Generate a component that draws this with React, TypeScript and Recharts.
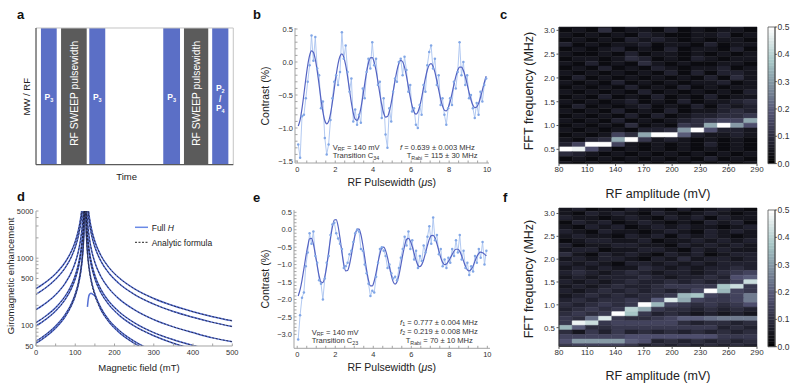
import React from 'react';
import { ComposedChart, Line, XAxis, YAxis, ReferenceArea, ReferenceLine } from 'recharts';

const FONT = '"Liberation Sans", Arial, Helvetica, sans-serif';
const FRAME = '#a3a3a3';
const TICK_TXT = '#333';
const TXT = '#222';

// ---------------- panel a : pulse sequence ----------------
const SEQ_START = [2.5, 12.7, 27.0, 64.5, 75.0, 89.3];
const SEQ_END = [10.5, 25.7, 35.1, 73.0, 87.3, 97.5];
const SEQ_KIND = ['mw', 'rf', 'mw', 'mw', 'rf', 'mw'];
const SEQ_LABEL = ['P3', 'RF SWEEP pulsewidth', 'P3', 'P3', 'RF SWEEP pulsewidth', 'P2/P4'];

// ---------------- panels b, e : Rabi oscillations ----------------
const RABI_T = [
  0.05, 0.15, 0.25, 0.35, 0.45, 0.55, 0.65, 0.75, 0.85, 0.95,
  1.05, 1.15, 1.25, 1.35, 1.45, 1.55, 1.65, 1.75, 1.85, 1.95,
  2.05, 2.15, 2.25, 2.35, 2.45, 2.55, 2.65, 2.75, 2.85, 2.95,
  3.05, 3.15, 3.25, 3.35, 3.45, 3.55, 3.65, 3.75, 3.85, 3.95,
  4.05, 4.15, 4.25, 4.35, 4.45, 4.55, 4.65, 4.75, 4.85, 4.95,
  5.05, 5.15, 5.25, 5.35, 5.45, 5.55, 5.65, 5.75, 5.85, 5.95,
  6.05, 6.15, 6.25, 6.35, 6.45, 6.55, 6.65, 6.75, 6.85, 6.95,
  7.05, 7.15, 7.25, 7.35, 7.45, 7.55, 7.65, 7.75, 7.85, 7.95,
  8.05, 8.15, 8.25, 8.35, 8.45, 8.55, 8.65, 8.75, 8.85, 8.95,
  9.05, 9.15, 9.25, 9.35, 9.45, 9.55, 9.65, 9.75, 9.85, 9.95,
];
const B_DATA = [
  -1.25, -1.45, -0.82, -0.80, -0.55, -0.30, -0.05, 0.40, 0.02, 0.38,
  -0.10, -0.20, -0.70, -0.60, -1.15, -1.40, -1.25, -0.88, -0.55, -0.30,
  -0.20, -0.35, -0.15, 0.45, 0.05, 0.25, -0.15, -0.45, -0.25, -0.90,
  -0.72, -0.95, -0.80, -0.92, -0.40, -0.55, -0.15, 0.05, -0.10, 0.30,
  -0.05, 0.05, -0.35, -0.30, -0.85, -0.55, -1.10, -1.30, -0.70, -0.90,
  -0.45, -0.25, -0.30, 0.00, 0.05, -0.20, 0.08, -0.12, -0.45, -0.35,
  -0.75, -0.70, -0.95, -1.00, -0.65, -0.80, -0.35, -0.45, -0.05, 0.15,
  0.25, -0.10, 0.05, -0.35, -0.20, -0.65, -0.55, -0.80, -0.95, -0.70,
  -0.55, -0.65, -0.30, -0.40, -0.15, 0.30, -0.20, 0.00, -0.35, -0.20,
  -0.55, -0.50, -0.70, -0.85, -0.62, -0.80, -0.45, -0.60, -0.35, -0.25,
];
const B_FIT = [
  -0.970, -0.875, -0.703, -0.485, -0.255, -0.050, 0.099, 0.168, 0.147, 0.040,
  -0.134, -0.347, -0.566, -0.754, -0.886, -0.936, -0.901, -0.785, -0.610, -0.403,
  -0.197, -0.024, 0.087, 0.122, 0.074, -0.048, -0.223, -0.423, -0.617, -0.773,
  -0.866, -0.885, -0.826, -0.700, -0.527, -0.335, -0.156, -0.015, 0.062, 0.067,
  -0.002, -0.132, -0.302, -0.484, -0.649, -0.773, -0.834, -0.826, -0.751, -0.618,
  -0.453, -0.281, -0.129, -0.023, 0.024, 0.004, -0.079, -0.210, -0.369, -0.529,
  -0.666, -0.758, -0.791, -0.761, -0.673, -0.543, -0.393, -0.244, -0.121, -0.045,
  -0.024, -0.063, -0.153, -0.280, -0.423, -0.559, -0.667, -0.731, -0.740, -0.695,
  -0.602, -0.481, -0.346, -0.223, -0.128, -0.077, -0.078, -0.129, -0.220, -0.338,
  -0.462, -0.572, -0.653, -0.692, -0.683, -0.628, -0.538, -0.428, -0.314, -0.215,
];
const E_DATA = [
  -3.15, -2.45, -1.95, -1.80, -1.05, -0.65, -0.10, -0.40, -0.05, -0.75,
  -0.95, -1.45, -1.55, -2.00, -1.40, -0.95, -0.75, -0.15, 0.15, 0.20,
  -0.10, -0.25, -0.40, -0.55, -1.10, -1.05, -0.95, -0.70, -0.60, -0.35,
  -0.10, 0.00, -0.05, -0.55, -0.60, -1.00, -1.25, -1.55, -1.90, -1.75,
  -1.80, -1.35, -0.95, -0.55, -0.50, -0.60, -0.75, -1.10, -1.00, -1.25,
  -1.40, -1.35, -1.45, -1.10, -0.80, -0.55, -0.20, -0.45, -0.05, -0.55,
  -0.30, -0.85, -0.60, -1.10, -0.75, -0.90, -0.45, -0.65, -0.20, 0.10,
  -0.40, 0.35, -0.30, -0.15, -0.70, -0.55, -1.05, -0.85, -1.10, -0.80,
  -0.95, -0.55, -0.75, -0.30, -0.65, -0.15, -0.85, -0.60, -1.10, -0.95,
  -1.30, -1.05, -1.20, -0.75, -0.95, -0.55, -0.80, -0.35, -1.00, -0.60,
];
const E_FIT = [
  -1.90, -1.72, -1.45, -1.12, -0.78, -0.48, -0.26, -0.25, -0.41, -0.70,
  -1.03, -1.32, -1.50, -1.515, -1.35, -1.05, -0.65, -0.25, 0.08, 0.28,
  0.29, 0.10, -0.24, -0.65, -0.99, -1.18, -1.17, -1.00, -0.72, -0.41,
  -0.14, 0.02, 0.02, -0.14, -0.43, -0.795, -1.16, -1.45, -1.61, -1.61,
  -1.47, -1.23, -0.94, -0.69, -0.53, -0.50, -0.60, -0.80, -1.065, -1.31,
  -1.495, -1.56, -1.49, -1.30, -1.02, -0.72, -0.46, -0.28, -0.25, -0.32,
  -0.48, -0.68, -0.88, -1.02, -1.06, -1.00, -0.86, -0.66, -0.45, -0.27,
  -0.17, -0.16, -0.24, -0.405, -0.605, -0.80, -0.94, -1.00, -0.98, -0.91,
  -0.81, -0.71, -0.61, -0.56, -0.56, -0.62, -0.75, -0.90, -1.05, -1.15,
  -1.18, -1.14, -1.04, -0.90, -0.77, -0.675, -0.64, -0.66, -0.70, -0.75,
];
const PW_TICKS = [0, 0.5, 1, 1.5, 2, 2.5, 3, 3.5, 4, 4.5, 5, 5.5, 6, 6.5, 7, 7.5, 8, 8.5, 9, 9.5, 10];
const B_YTICKS = [-1.5, -1.4, -1.3, -1.2, -1.1, -1.0, -0.9, -0.8, -0.7, -0.6, -0.5, -0.4, -0.3, -0.2, -0.1, 0, 0.1, 0.2, 0.3, 0.4, 0.5];
const E_YTICKS = [-3.0, -2.9, -2.8, -2.7, -2.6, -2.5, -2.4, -2.3, -2.2, -2.1, -2.0, -1.9, -1.8, -1.7, -1.6, -1.5, -1.4, -1.3, -1.2, -1.1, -1.0, -0.9, -0.8, -0.7, -0.6, -0.5, -0.4, -0.3, -0.2, -0.1, 0, 0.1, 0.2, 0.3, 0.4, 0.5];

// ---------------- panels c, f : FFT maps ----------------
const AMP_EDGES = [80, 94, 108, 122, 136, 150, 164, 178, 192, 206, 220, 234, 248, 262, 276, 290];
const AMP_TICKS = [80, 110, 140, 170, 200, 230, 260, 290];
const FREQ_TICKS = [0.5, 1.0, 1.5, 2.0, 2.5, 3.0];
const CBAR_TICKS = [0, 0.1, 0.2, 0.3, 0.4, 0.5];
const LEVELS = '0123456789ABCDEFGHIJK'; // each step = 0.025
const C_FREQ = [3.1, 3.0, 2.9, 2.8, 2.7, 2.6, 2.5, 2.4, 2.3, 2.2, 2.1, 2.0, 1.9, 1.8, 1.7, 1.6, 1.5, 1.4, 1.3, 1.2, 1.1, 1.0, 0.9, 0.8, 0.7, 0.6, 0.5, 0.4, 0.3, 0.2];
const C_ROWS = [
  '211213112122131',
  '121412213121221',
  '212121321122312',
  '121213232121221',
  '312122312213122',
  '121231213122131',
  '211213122121212',
  '122124312132122',
  '213121421211221',
  '121312132122312',
  '212121213131332',
  '131212121213142',
  '212131212122312',
  '121213121312122',
  '212121312121213',
  '121312131213122',
  '212123121312234',
  '131212312131323',
  '212131213122343',
  '121213131233445',
  '21213121234566D',
  '12121412154DKC7',
  '212121334CK7332',
  '121264DKK832232',
  '2134DK523212121',
  '36KK62121213121',
  'KJ7312121212121',
  '432121212121212',
  '121212121213121',
  '212121212121212',
];
const F_FREQ = [3.1, 3.0, 2.9, 2.8, 2.7, 2.6, 2.5, 2.4, 2.3, 2.2, 2.1, 2.0, 1.9, 1.8, 1.7, 1.6, 1.5, 1.4, 1.3, 1.2, 1.1, 1.0, 0.9, 0.8, 0.7, 0.6, 0.5, 0.4, 0.3, 0.2, 0.1];
const F_ROWS = [
  '231213221312321',
  '213232132123212',
  '322123213231322',
  '132312321213231',
  '213231232322123',
  '321322123213232',
  '232213231323212',
  '123322312232323',
  '312233221323232',
  '233122332132322',
  '421323213231233',
  '232332132423323',
  '323213323232333',
  '232322432323343',
  '343234323323456',
  '232333432334378',
  '32323433434346H',
  '232343345555FH5',
  '32343434346KE65',
  '234343445EF656A',
  '34344548ID6556A',
  '434545KE6545457',
  '34545GD54434343',
  '4545KF534323232',
  '549I54456889AAA',
  '5JH566666434434',
  'E84455555555343',
  '425353434343434',
  '666667777777555',
  '7CCCC8734343434',
  '566665343434343',
];

// ---------------- panel d : giromagnetic enhancement ----------------
const D_LEFT_B = [0, 25, 50, 75, 90, 100, 108, 114, 118, 121, 123, 124];
const D_RIGHT_B = [126, 127, 129, 132, 136, 142, 150, 165, 185, 210, 250, 300, 350, 400, 450, 500];
const ENH_LEFT = [
  [354, 443, 590, 885, 1264, 1770, 2603, 4023, 6321, 11063, 22125, 44250],
  [292, 365, 487, 730, 1043, 1460, 2147, 3318, 5214, 9125, 18250, 36500],
  [173, 216, 288, 432, 617, 864, 1271, 1964, 3086, 5400, 10800, 21600],
  [111, 139, 185, 278, 397, 556, 818, 1264, 1986, 3475, 6950, 13900],
  [99, 124, 165, 248, 354, 496, 729, 1127, 1771, 3100, 6200, 12400],
  [59, 74, 99, 148, 211, 296, 435, 673, 1057, 1850, 3700, 7400],
  [55, 69, 92, 138, 197, 276, 406, 627, 986, 1725, 3450, 6900],
];
const ENH_RIGHT = [
  [44250, 22125, 11063, 6321, 4023, 2603, 1770, 1106, 738, 521, 354, 253, 197, 161, 136, 118],
  [36500, 18250, 9125, 5214, 3318, 2147, 1460, 913, 608, 429, 292, 209, 162, 133, 112, 97],
  [21600, 10800, 5400, 3086, 1964, 1271, 864, 540, 360, 254, 173, 123, 96, 79, 66, 58],
  [13900, 6950, 3475, 1986, 1264, 818, 556, 348, 232, 164, 111, 79, 62, 51, 43, 37],
  [12400, 6200, 3100, 1771, 1127, 729, 496, 310, 207, 146, 99, 71, 55, 45, 38, 33],
  [7400, 3700, 1850, 1057, 673, 435, 296, 185, 123, 87, 59, 42, 33, 27, 23, 20],
  [6900, 3450, 1725, 986, 627, 406, 276, 173, 115, 81, 55, 39, 31, 25, 21, 18],
];
const HOOK_B = [131, 133, 136, 140, 145, 150, 165, 185, 210, 250, 300];
const HOOK_G = [190, 245, 290, 302, 292, 276, 173, 115, 81, 55, 39];
const D_XTICKS = [0, 50, 100, 150, 200, 250, 300, 350, 400, 450, 500];
const D_YTICKS = [50, 60, 70, 80, 90, 100, 200, 300, 400, 500, 600, 700, 800, 900, 1000, 2000, 3000, 4000, 5000];
const D_YLABELS = [50, 100, 500, 1000, 5000];

// ---------------- helpers ----------------
function bone(n: number) {
  const t = Math.max(0, Math.min(1, n));
  const r = t < 0.746 ? 0.8752 * t : 0.653 + (t - 0.746) * 1.366;
  const g = t < 0.365 ? 0.875 * t : t < 0.746 ? 0.3194 + (t - 0.365) * 1.2042 : 0.7778 + (t - 0.746) * 0.874;
  const b = t < 0.365 ? 1.2175 * t : 0.4444 + (t - 0.365) * 0.875;
  const c = (v: number) => Math.round(Math.max(0, Math.min(1, v)) * 255);
  return `rgb(${c(r)},${c(g)},${c(b)})`;
}

function heatCells(rows: string[], freqs: number[], lo: number, hi: number) {
  const out: any[] = [];
  rows.forEach((row, r) => {
    const f = freqs[r];
    const y1 = Math.max(lo, f - 0.05);
    const y2 = Math.min(hi, f + 0.05);
    for (let k = 0; k < AMP_EDGES.length - 1; k++) {
      const v = LEVELS.indexOf(row[k]) * 0.025;
      out.push({ key: `${r}-${k}`, x1: AMP_EDGES[k], x2: AMP_EDGES[k + 1], y1, y2, color: bone(v / 0.5) });
    }
  });
  return out;
}

const CBAR_CELLS = Array.from({ length: 50 }, (_, i) => ({ y1: i * 0.01, y2: (i + 1) * 0.01, color: bone((i + 0.5) / 50) }));

const fmtSigned = (v: number) => {
  if (Math.abs(v * 2 - Math.round(v * 2)) > 1e-6) return '';
  const s = Math.abs(v).toFixed(1);
  return v < -1e-9 ? '\u2212' + s : s;
};
const fmtEven = (v: number) => (Math.abs(v / 2 - Math.round(v / 2)) < 1e-6 ? String(v) : '');
const tickStyle = (fs: number) => ({ fontSize: fs, fill: TICK_TXT, fontFamily: FONT });

function SeqLabel(props: any) {
  const { viewBox, seq } = props;
  const { x, y, width, height } = viewBox;
  const cx = x + width / 2;
  const cy = y + height / 2;
  if (seq === 'RF SWEEP pulsewidth') {
    const yy = cy - 3;
    return (
      <text x={cx} y={yy} transform={`rotate(-90 ${cx} ${yy})`} textAnchor="middle" dy="0.36em" fill="#fff" fontSize={10.3} fontFamily={FONT}>
        {seq}
      </text>
    );
  }
  if (seq === 'P2/P4') {
    return (
      <g fill="#fff" fontFamily={FONT} fontWeight="bold" fontSize={8.5} textAnchor="middle">
        <text x={cx} y={cy - 5}>P<tspan fontSize={5.5} dy={1.5}>2</tspan></text>
        <text x={cx} y={cy + 5.3}>/</text>
        <text x={cx} y={cy + 14.8}>P<tspan fontSize={5.5} dy={1.5}>4</tspan></text>
      </g>
    );
  }
  return (
    <text x={cx} y={cy + 4} fill="#fff" fontFamily={FONT} fontWeight="bold" fontSize={8.5} textAnchor="middle">
      P<tspan fontSize={5.5} dy={1.5}>3</tspan>
    </text>
  );
}

function Pos({ left, top, children }: any) {
  return <div style={{ position: 'absolute', left, top }}>{children}</div>;
}

// ---------------- panels ----------------
function PanelA() {
  return (
    <Pos left={34} top={26.3}>
      <ComposedChart width={201.3} height={140.7} margin={{ top: 2, right: 2, bottom: 2, left: 2 }}>
        <XAxis type="number" dataKey="x" domain={[0, 100]} allowDataOverflow height={0} tick={false} tickLine={false} axisLine={false} />
        <YAxis type="number" domain={[0, 1]} allowDataOverflow width={0} tick={false} tickLine={false} axisLine={false} />
        {SEQ_START.map((s, i) => (
          <ReferenceArea
            key={i}
            x1={s}
            x2={SEQ_END[i]}
            y1={0}
            y2={1}
            fill={SEQ_KIND[i] === 'mw' ? '#5b6fc6' : '#5b5b5b'}
            fillOpacity={1}
            stroke="none"
            label={<SeqLabel seq={SEQ_LABEL[i]} />}
          />
        ))}
        <ReferenceLine x={100} stroke="#c4c4c4" strokeWidth={1} />
        <ReferenceLine y={1} stroke="#c4c4c4" strokeWidth={1} />
        <ReferenceLine x={0} stroke="#5a5a5a" strokeWidth={1.3} />
        <ReferenceLine y={0} stroke="#5a5a5a" strokeWidth={1.3} />
      </ComposedChart>
    </Pos>
  );
}

function RabiPanel({ left, top, width, height, xDomain, yDomain, yTicks, data, fit }: any) {
  const rows = RABI_T.map((t, i) => ({ t, data: data[i], fit: fit[i] }));
  return (
    <Pos left={left} top={top}>
      <ComposedChart width={width} height={height} data={rows} margin={{ top: 3, right: 3, bottom: 0, left: 0 }}>
        <XAxis dataKey="t" type="number" domain={xDomain} allowDataOverflow ticks={PW_TICKS} interval={0} height={16}
          axisLine={{ stroke: FRAME }} tickLine={{ stroke: FRAME }} tickSize={-2.5} tickMargin={6} tick={tickStyle(7.5)} tickFormatter={fmtEven} />
        <XAxis xAxisId="top" orientation="top" type="number" domain={xDomain} allowDataOverflow ticks={PW_TICKS} interval={0} height={0}
          axisLine={{ stroke: FRAME }} tickLine={{ stroke: FRAME }} tickSize={-2.5} tick={false} />
        <YAxis type="number" domain={yDomain} allowDataOverflow ticks={yTicks} interval={0} width={30}
          axisLine={{ stroke: FRAME }} tickLine={{ stroke: FRAME }} tickSize={-2.5} tickMargin={4.5} tick={tickStyle(7.5)} tickFormatter={fmtSigned} />
        <YAxis yAxisId="right" orientation="right" type="number" domain={yDomain} allowDataOverflow ticks={yTicks} interval={0} width={0}
          axisLine={{ stroke: FRAME }} tickLine={{ stroke: FRAME }} tickSize={-2.5} tick={false} />
        <Line dataKey="data" type="linear" stroke="#a9c3ef" strokeWidth={0.9} isAnimationActive={false}
          dot={{ r: 1.25, fill: '#82a7e6', stroke: 'none' }} activeDot={false} />
        <Line dataKey="fit" type="monotone" stroke="#5463c2" strokeWidth={1.2} isAnimationActive={false} dot={false} activeDot={false} />
      </ComposedChart>
    </Pos>
  );
}

function HeatPanel({ left, top, height, rows, freqs, lo, hi }: any) {
  const cells = heatCells(rows, freqs, lo, hi);
  return (
    <Pos left={left} top={top}>
      <ComposedChart width={234} height={height} margin={{ top: 2, right: 12, bottom: 0, left: 0 }}>
        <XAxis type="number" dataKey="x" domain={[80, 290]} allowDataOverflow ticks={AMP_TICKS} interval={0} height={14}
          axisLine={{ stroke: '#333' }} tickLine={{ stroke: '#555' }} tickSize={2.5} tickMargin={0.5} tick={tickStyle(8)} />
        <YAxis type="number" domain={[lo, hi]} allowDataOverflow ticks={FREQ_TICKS} interval={0} width={24}
          axisLine={{ stroke: '#333' }} tickLine={{ stroke: '#555' }} tickSize={2.5} tickMargin={1.5} tick={tickStyle(8)}
          tickFormatter={(v: number) => v.toFixed(1)} />
        {cells.map((c) => (
          <ReferenceArea key={c.key} x1={c.x1} x2={c.x2} y1={c.y1} y2={c.y2} fill={c.color} fillOpacity={1}
            stroke={c.color} strokeWidth={0.5} ifOverflow="visible" />
        ))}
      </ComposedChart>
    </Pos>
  );
}

function ColorBar({ left, top, height }: any) {
  return (
    <Pos left={left} top={top}>
      <ComposedChart width={26} height={height} margin={{ top: 6, right: 0, bottom: 6, left: 1 }}>
        <XAxis type="number" dataKey="x" domain={[0, 1]} allowDataOverflow height={0} tick={false} tickLine={false} axisLine={false} />
        <YAxis orientation="right" type="number" domain={[0, 0.5]} allowDataOverflow ticks={CBAR_TICKS} interval={0} width={18}
          axisLine={{ stroke: '#444', strokeWidth: 0.8 }} tickLine={{ stroke: '#444' }} tickSize={1.8} tickMargin={0.8} tick={tickStyle(8.5)}
          tickFormatter={(v: number) => v.toFixed(1)} />
        {CBAR_CELLS.map((c, i) => (
          <ReferenceArea key={i} x1={0} x2={1} y1={c.y1} y2={c.y2} fill={c.color} fillOpacity={1} stroke={c.color} strokeWidth={0.4} />
        ))}
        <ReferenceArea x1={0} x2={1} y1={0} y2={0.5} fill="none" fillOpacity={0} stroke="#555" strokeWidth={0.8} />
      </ComposedChart>
    </Pos>
  );
}

function PanelD() {
  const blue = '#5670d4';
  const dash = '#1c1c2e';
  const leftSets = ENH_LEFT.map((vals) => D_LEFT_B.map((b, j) => ({ b, g: vals[j] })));
  const rightSets = ENH_RIGHT.map((vals) => D_RIGHT_B.map((b, j) => ({ b, g: vals[j] })));
  const hook = HOOK_B.map((b, j) => ({ b, g: HOOK_G[j] }));
  const blueRight = rightSets.slice(0, 6).concat([hook]);
  return (
    <Pos left={6} top={207.7}>
      <ComposedChart width={236.3} height={152} margin={{ top: 3, right: 10, bottom: 0, left: 0 }}>
        <XAxis dataKey="b" type="number" domain={[0, 500]} allowDataOverflow ticks={D_XTICKS} interval={0} height={14}
          axisLine={{ stroke: FRAME }} tickLine={{ stroke: FRAME }} tickSize={-2.5} tickMargin={5.8} tick={tickStyle(7.5)}
          tickFormatter={(v: number) => (v % 100 === 0 ? String(v) : '')} />
        <XAxis xAxisId="top" orientation="top" type="number" domain={[0, 500]} allowDataOverflow ticks={D_XTICKS} interval={0} height={0}
          axisLine={{ stroke: FRAME }} tickLine={{ stroke: FRAME }} tickSize={-2.5} tick={false} />
        <YAxis dataKey="g" type="number" scale="log" domain={[50, 5000]} allowDataOverflow ticks={D_YTICKS} interval={0} width={30}
          axisLine={{ stroke: FRAME }} tickLine={{ stroke: FRAME }} tickSize={-2.5} tickMargin={5} tick={tickStyle(7.5)}
          tickFormatter={(v: number) => (D_YLABELS.includes(v) ? String(v) : '')} />
        <YAxis yAxisId="right" orientation="right" type="number" scale="log" domain={[50, 5000]} allowDataOverflow ticks={D_YTICKS} interval={0} width={0}
          axisLine={{ stroke: FRAME }} tickLine={{ stroke: FRAME }} tickSize={-2.5} tick={false} />
        {leftSets.map((d, i) => (
          <Line key={`bl${i}`} data={d} dataKey="g" type="monotone" stroke={blue} strokeWidth={1.5} dot={false} activeDot={false} isAnimationActive={false} />
        ))}
        {blueRight.map((d, i) => (
          <Line key={`br${i}`} data={d} dataKey="g" type="monotone" stroke={blue} strokeWidth={1.5} dot={false} activeDot={false} isAnimationActive={false} />
        ))}
        {leftSets.map((d, i) => (
          <Line key={`dl${i}`} data={d} dataKey="g" type="monotone" stroke={dash} strokeWidth={0.8} strokeDasharray="2 1.6" dot={false} activeDot={false} isAnimationActive={false} />
        ))}
        {rightSets.map((d, i) => (
          <Line key={`dr${i}`} data={d} dataKey="g" type="monotone" stroke={dash} strokeWidth={0.8} strokeDasharray="2 1.6" dot={false} activeDot={false} isAnimationActive={false} />
        ))}
      </ComposedChart>
    </Pos>
  );
}

function Overlay() {
  const sub = (s: string) => <tspan fontSize={5.3} dy={1.6}>{s}</tspan>;
  return (
    <svg width={793} height={392} style={{ position: 'absolute', left: 0, top: 0, pointerEvents: 'none' }} fontFamily={FONT} fill={TXT}>
      <g fontWeight="bold" fontSize={13} fill="#111">
        <text x={17} y={18.5}>a</text>
        <text x={253} y={18.5}>b</text>
        <text x={500} y={18.5}>c</text>
        <text x={17} y={200.5}>d</text>
        <text x={253} y={201.5}>e</text>
        <text x={503} y={201.5}>f</text>
      </g>
      <text transform="translate(29.5,96.7) rotate(-90)" textAnchor="middle" fontSize={9.5}>MW / RF</text>
      <text x={126.7} y={180} textAnchor="middle" fontSize={9.5}>Time</text>
      <text transform="translate(269,96) rotate(-90)" textAnchor="middle" fontSize={10.5}>Contrast (%)</text>
      <text x={391.7} y={185.5} textAnchor="middle" fontSize={10.5}>RF Pulsewidth (<tspan fontStyle="italic">μ</tspan>s)</text>
      <g fontSize={7.6} fill="#333">
        <text x={332.7} y={149.5}>V{sub('RF')}<tspan dy={-1.6}> = 140 mV</tspan></text>
        <text x={332.7} y={158}>Transition C{sub('34')}</text>
        <text x={400} y={149.5}><tspan fontStyle="italic">f</tspan> = 0.639 ± 0.003 MHz</text>
        <text x={406.7} y={158}>T{sub('Rabi')}<tspan dy={-1.6}> = 115 ± 30 MHz</tspan></text>
      </g>
      <text transform="translate(533,91) rotate(-90)" textAnchor="middle" fontSize={12.5}>FFT frequency (MHz)</text>
      <text x={658} y={197.5} textAnchor="middle" fontSize={12.5}>RF amplitude (mV)</text>
      <text transform="translate(13.5,276) rotate(-90)" textAnchor="middle" fontSize={9.5}>Giromagnetic enhancement</text>
      <text x={139} y={371} textAnchor="middle" fontSize={9.5}>Magnetic field (mT)</text>
      <line x1={135} x2={148} y1={227.3} y2={227.3} stroke="#6a8ae6" strokeWidth={1.5} />
      <text x={151.7} y={230.5} fontSize={8.5}>Full <tspan fontStyle="italic">H</tspan></text>
      <line x1={135} x2={148} y1={242.3} y2={242.3} stroke="#222" strokeWidth={1} strokeDasharray="2 1.5" />
      <text x={151.7} y={245.5} fontSize={8.5}>Analytic formula</text>
      <text transform="translate(269,279) rotate(-90)" textAnchor="middle" fontSize={10.5}>Contrast (%)</text>
      <text x={391.7} y={370.5} textAnchor="middle" fontSize={10.5}>RF Pulsewidth (<tspan fontStyle="italic">μ</tspan>s)</text>
      <g fontSize={7.6} fill="#333">
        <text x={400} y={324.5}><tspan fontStyle="italic">f</tspan>{sub('1')}<tspan dy={-1.6}> = 0.777 ± 0.004 MHz</tspan></text>
        <text x={400} y={333.5}><tspan fontStyle="italic">f</tspan>{sub('2')}<tspan dy={-1.6}> = 0.219 ± 0.008 MHz</tspan></text>
        <text x={405.7} y={343}>T{sub('Rabi')}<tspan dy={-1.6}> = 70 ± 10 MHz</tspan></text>
        <text x={311.7} y={334.5}>V{sub('RF')}<tspan dy={-1.6}> = 140 mV</tspan></text>
        <text x={311.7} y={343}>Transition C{sub('23')}</text>
      </g>
      <text transform="translate(533,279) rotate(-90)" textAnchor="middle" fontSize={12.5}>FFT frequency (MHz)</text>
      <text x={658} y={380} textAnchor="middle" fontSize={12.5}>RF amplitude (mV)</text>
    </svg>
  );
}

export default function App() {
  return (
    <div style={{ position: 'absolute', left: 0, top: 0, width: 793, height: 392, background: '#fff', overflow: 'hidden', fontFamily: FONT }}>
      <PanelA />
      <RabiPanel left={265} top={25.3} width={227} height={154} xDomain={[-0.12, 10.1]} yDomain={[-1.53, 0.515]} yTicks={B_YTICKS} data={B_DATA} fit={B_FIT} />
      <RabiPanel left={264} top={207} width={229} height={157.3} xDomain={[-0.17, 10.14]} yDomain={[-3.4, 0.566]} yTicks={E_YTICKS} data={E_DATA} fit={E_FIT} />
      <HeatPanel left={535.3} top={24.7} height={152.6} rows={C_ROWS} freqs={C_FREQ} lo={0.2} hi={3.07} />
      <HeatPanel left={535.3} top={206.3} height={154.4} rows={F_ROWS} freqs={F_FREQ} lo={0.09} hi={3.12} />
      <ColorBar left={767} top={20.7} height={148.6} />
      <ColorBar left={767} top={204} height={148.7} />
      <PanelD />
      <Overlay />
    </div>
  );
}
